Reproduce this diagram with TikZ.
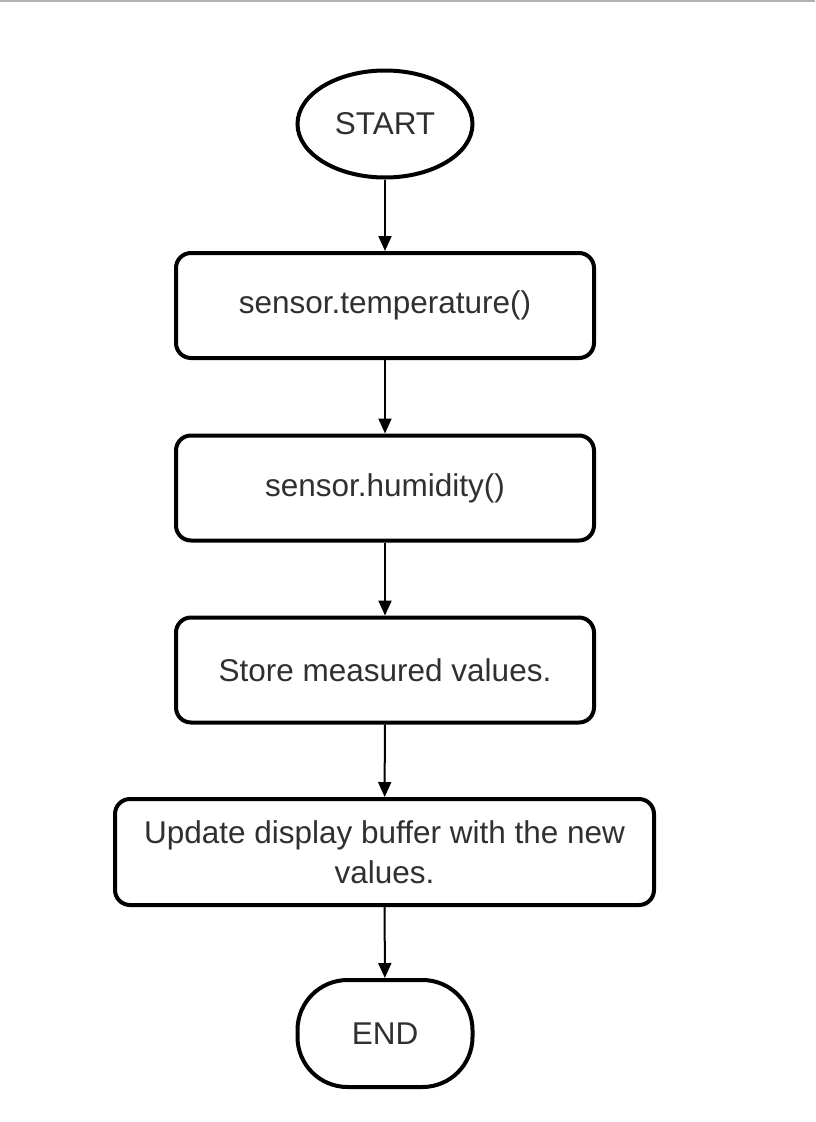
\documentclass[tikz,border=0pt]{standalone}
\usepackage{fontspec}
\setmainfont{Liberation Sans}
\usetikzlibrary{shapes.geometric,arrows.meta}
\definecolor{txt}{HTML}{303030}
\tikzset{
  every node/.style={font=\fontsize{31.5}{40}\selectfont, text=txt},
  procbox/.style={draw=black, line width=4pt, rounded corners=15pt, minimum width=418pt, minimum height=105pt, align=center, fill=white},
  term/.style={draw=black, line width=4pt, ellipse, minimum width=175pt, minimum height=107pt, fill=white},
  stad/.style={draw=black, line width=4pt, rounded corners=50pt, minimum width=175pt, minimum height=107pt, fill=white},
  flow/.style={draw=black, line width=2pt, -{Triangle[length=15pt,width=13pt]}},
}
\begin{document}
\begin{tikzpicture}[x=1pt,y=-1pt]
\useasboundingbox (0,0) rectangle (815,1122);
\fill[white] (0,0) rectangle (815,1122);
\fill[gray!60] (0,0) rectangle (815,2);
\node[term] (start) at (385,124) {START};
\node[procbox] (temp) at (385,305.5) {sensor.temperature()};
\node[procbox] (hum) at (385,488) {sensor.humidity()};
\node[procbox] (store) at (385,670) {Store measured values.};
\node[procbox, minimum width=539pt, minimum height=106pt] (upd) at (384.5,852) {Update display buffer with the new\\values.};
\node[stad] (endn) at (385,1033.5) {END};
\draw[flow] (start) -- (temp);
\draw[flow] (temp) -- (hum);
\draw[flow] (hum) -- (store);
\draw[flow] (store) -- (upd);
\draw[flow] (upd) -- (endn);
\end{tikzpicture}
\end{document}
